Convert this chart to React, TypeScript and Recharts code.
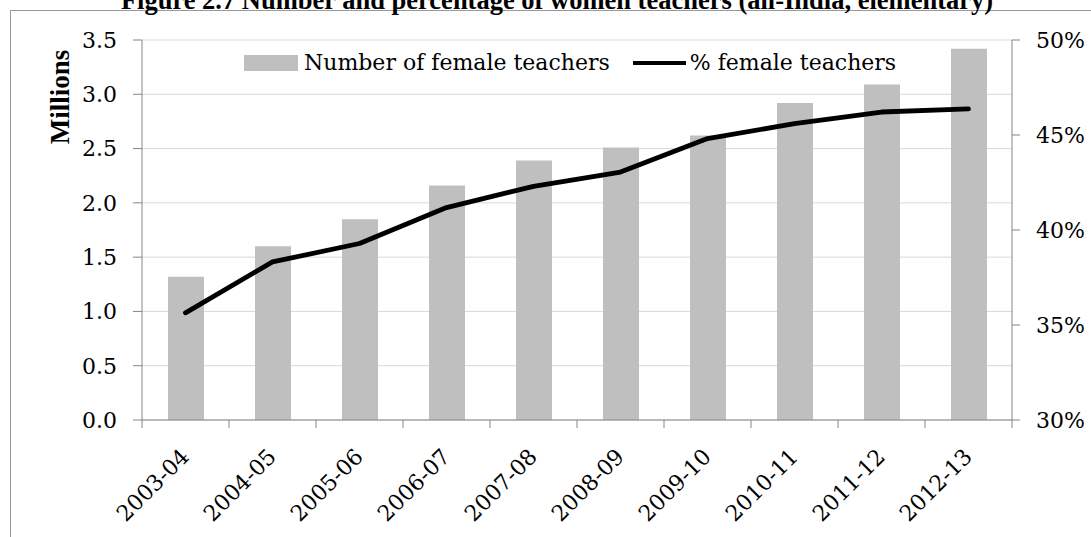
import React from 'react';
import { ComposedChart, Bar, Line, XAxis, YAxis, CartesianGrid, Legend } from 'recharts';

const years = ['2003-04', '2004-05', '2005-06', '2006-07', '2007-08', '2008-09', '2009-10', '2010-11', '2011-12', '2012-13'];
const femaleTeachersMillions = [1.32, 1.60, 1.85, 2.16, 2.39, 2.51, 2.62, 2.92, 3.09, 3.42];
const femaleTeacherPct = [35.64, 38.32, 39.29, 41.18, 42.30, 43.05, 44.81, 45.60, 46.21, 46.37];
const leftTicks = [0, 0.5, 1.0, 1.5, 2.0, 2.5, 3.0, 3.5];
const rightTicks = [30, 35, 40, 45, 50];

const data = years.map((y, i) => ({ year: y, count: femaleTeachersMillions[i], pct: femaleTeacherPct[i] }));

const FONT = '"DejaVu Serif", serif';
const AXIS = '#868686';
const GRID = '#d9d9d9';

const XTick = (props: any) => {
  const { x, y, payload, index, visibleTicksCount } = props;
  const half = payload && typeof payload.offset === 'number' && payload.offset > 0 ? payload.offset : 43.5;
  const axisY = y - 8;
  return (
    <g>
      <line x1={x - half} x2={x - half} y1={axisY} y2={axisY + 8} stroke={AXIS} />
      {index === visibleTicksCount - 1 && (
        <line x1={x + half} x2={x + half} y1={axisY} y2={axisY + 8} stroke={AXIS} />
      )}
      <text
        transform={`translate(${x + 5},${axisY + 38}) rotate(-45)`}
        textAnchor="end"
        fontFamily={FONT}
        fontSize={22}
        fill="#000"
      >
        {payload.value}
      </text>
    </g>
  );
};

const LegendContent = ({ payload }: any) => {
  const items = [...(payload || [])].sort((a: any, b: any) => (a.type === 'line' ? 1 : 0) - (b.type === 'line' ? 1 : 0));
  return (
    <div
      style={{
        display: 'flex',
        alignItems: 'center',
        fontFamily: FONT,
        fontSize: 22,
        lineHeight: '26px',
        color: '#000',
        whiteSpace: 'nowrap',
      }}
    >
      {items.map((e: any, i: number) => (
        <div key={i} style={{ display: 'flex', alignItems: 'center', marginRight: i === 0 ? 23 : 0 }}>
          {e.type === 'line' ? (
            <span style={{ display: 'inline-block', width: 53, height: 4.5, background: e.color, marginRight: 4 }} />
          ) : (
            <span style={{ display: 'inline-block', width: 54, height: 16, background: e.color, marginRight: 6 }} />
          )}
          <span>{e.value}</span>
        </div>
      ))}
    </div>
  );
};

const MillionsLabel = (props: any) => {
  const vb = props.viewBox || { x: 62, y: 40 };
  const cx = vb.x - 2;
  const cy = vb.y + 57;
  return (
    <text
      transform={`translate(${cx},${cy}) rotate(-90)`}
      textAnchor="middle"
      dominantBaseline="central"
      fontFamily='"Liberation Serif", serif'
      fontWeight="bold"
      fontSize={27}
      fill="#000"
    >
      Millions
    </text>
  );
};

export default function App() {
  return (
    <div style={{ position: 'absolute', left: 0, top: 0, width: 1091, height: 537, background: '#fff', overflow: 'hidden' }}>
      <svg width={1091} height={537} style={{ position: 'absolute', left: 0, top: 0 }}>
        <path d="M10.5 537 V10.5 H1091" stroke="#999" strokeWidth={1} fill="none" />
        <text
          x={557}
          y={9}
          textAnchor="middle"
          fontFamily='"Liberation Serif", serif'
          fontWeight="bold"
          fontSize={26.5}
          fill="#000"
        >
          Figure 2.7 Number and percentage of women teachers (all-India, elementary)
        </text>
      </svg>
      <div style={{ position: 'absolute', left: 0, top: 0 }}>
        <ComposedChart width={1091} height={537} data={data} margin={{ top: 40, right: 0, bottom: 17, left: 62 }}>
          <CartesianGrid vertical={false} stroke={GRID} yAxisId="left" />
          <XAxis
            dataKey="year"
            interval={0}
            height={100}
            axisLine={{ stroke: AXIS }}
            tickLine={false}
            tickSize={8}
            tickMargin={0}
            tick={<XTick />}
          />
          <YAxis
            yAxisId="left"
            width={80}
            domain={[0, 3.5]}
            ticks={leftTicks}
            tickFormatter={(v: number) => v.toFixed(1)}
            axisLine={{ stroke: AXIS }}
            tickLine={{ stroke: AXIS }}
            tickSize={9}
            tickMargin={16}
            tick={{ fontFamily: FONT, fontSize: 22, fill: '#000' }}
            label={<MillionsLabel />}
          />
          <YAxis
            yAxisId="pct"
            orientation="right"
            width={79}
            domain={[30, 50]}
            ticks={rightTicks}
            tickFormatter={(v: number) => `${v}%`}
            axisLine={{ stroke: AXIS }}
            tickLine={{ stroke: AXIS }}
            tickSize={8}
            tickMargin={16}
            tick={{ fontFamily: FONT, fontSize: 22, fill: '#000' }}
          />
          <Legend
            layout="horizontal"
            verticalAlign="middle"
            align="center"
            content={<LegendContent />}
            wrapperStyle={{ left: 244, top: 50, width: 'auto', height: 'auto' }}
          />
          <Bar
            yAxisId="left"
            dataKey="count"
            name="Number of female teachers"
            fill="#bfbfbf"
            barSize={36}
            isAnimationActive={false}
          />
          <Line
            yAxisId="pct"
            dataKey="pct"
            name="% female teachers"
            type="linear"
            stroke="#000"
            strokeWidth={4.8}
            strokeLinejoin="round"
            strokeLinecap="round"
            dot={false}
            activeDot={false}
            isAnimationActive={false}
          />
        </ComposedChart>
      </div>
    </div>
  );
}
